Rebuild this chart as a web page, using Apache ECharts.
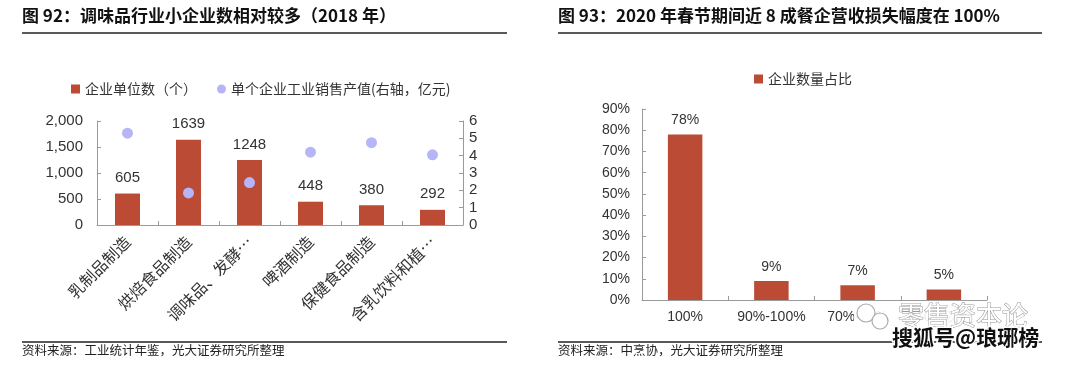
<!DOCTYPE html>
<html>
<head>
<meta charset="utf-8">
<script src="https://cdn.jsdelivr.net/npm/echarts@6/dist/echarts.min.js"></script>
<style>
  html, body { margin: 0; padding: 0; background: #fff; }
  #main { width: 1080px; height: 365px; }
</style>
</head>
<body>
<div id="main"></div>
<script>
// 图92 数据
var industries = ['乳制品制造', '烘焙食品制造', '调味品、发酵…', '啤酒制造', '保健食品制造', '含乳饮料和植…'];
var firmCounts = [605, 1639, 1248, 448, 380, 292];
var salesPerFirm = [5.3, 1.85, 2.45, 4.2, 4.75, 4.05];
// 图93 数据
var lossRanges = ['100%', '90%-100%', '70%-90%', '70%以下'];
var lossShares = [78, 9, 7, 5];

var RED = '#bc4b36';
var PURPLE = '#b6b5f7';
var AXIS = '#9a9a9a';
var CN = '"Noto Sans CJK SC", sans-serif';
var NUM = '"Liberation Sans", Arial, sans-serif';

var myChart = echarts.init(document.getElementById('main'));

var tick = { show: true, inside: true, length: 4, lineStyle: { color: AXIS } };

var option = {
  backgroundColor: '#fff',
  animation: false,
  textStyle: { fontFamily: NUM },
  legend: [
    {
      left: 66, top: 77,
      itemWidth: 9, itemHeight: 9, itemGap: 20,
      textStyle: { fontFamily: CN, fontSize: 14, color: '#333' },
      data: [
        { name: '企业单位数（个）', icon: 'rect' },
        { name: '单个企业工业销售产值(右轴，亿元)', icon: 'circle' }
      ]
    },
    {
      left: 749, top: 67,
      itemWidth: 9, itemHeight: 9,
      textStyle: { fontFamily: CN, fontSize: 14, color: '#333' },
      data: [{ name: '企业数量占比', icon: 'rect' }]
    }
  ],
  grid: [
    { left: 97, top: 121, width: 366, height: 104 },
    { left: 642, top: 109, width: 345, height: 191 }
  ],
  xAxis: [
    {
      type: 'category', gridIndex: 0, data: industries,
      axisLine: { lineStyle: { color: AXIS } },
      axisTick: tick,
      axisLabel: { interval: 0, rotate: 45, fontFamily: CN, fontSize: 16, color: '#333', margin: 14 }
    },
    {
      type: 'category', gridIndex: 1, data: lossRanges,
      axisLine: { lineStyle: { color: AXIS } },
      axisTick: tick,
      axisLabel: { interval: 0, fontFamily: NUM, fontSize: 14, color: '#333', margin: 10 }
    }
  ],
  yAxis: [
    {
      type: 'value', gridIndex: 0, min: 0, max: 2000, interval: 500,
      axisLine: { show: true, lineStyle: { color: AXIS } },
      axisTick: tick,
      splitLine: { show: false },
      axisLabel: {
        fontFamily: NUM, fontSize: 15, color: '#333', margin: 14,
        formatter: function (v) { return v.toLocaleString('en-US'); }
      }
    },
    {
      type: 'value', gridIndex: 0, position: 'right', min: 0, max: 6, interval: 1,
      axisLine: { show: true, lineStyle: { color: AXIS } },
      axisTick: tick,
      splitLine: { show: false },
      axisLabel: { fontFamily: NUM, fontSize: 15, color: '#333', margin: 6 }
    },
    {
      type: 'value', gridIndex: 1, min: 0, max: 90, interval: 10,
      axisLine: { show: true, lineStyle: { color: AXIS } },
      axisTick: tick,
      splitLine: { show: false },
      axisLabel: { fontFamily: NUM, fontSize: 14, color: '#333', margin: 12, formatter: '{value}%' }
    }
  ],
  series: [
    {
      name: '企业单位数（个）', type: 'bar', xAxisIndex: 0, yAxisIndex: 0,
      data: firmCounts, barWidth: '41%', itemStyle: { color: RED },
      label: { show: true, position: 'top', distance: 8, fontFamily: NUM, fontSize: 15, color: '#333' }
    },
    {
      name: '单个企业工业销售产值(右轴，亿元)', type: 'scatter', xAxisIndex: 0, yAxisIndex: 1,
      data: salesPerFirm, symbolSize: 11, itemStyle: { color: PURPLE, opacity: 1 }
    },
    {
      name: '企业数量占比', type: 'bar', xAxisIndex: 1, yAxisIndex: 2,
      data: lossShares, barWidth: '40%', itemStyle: { color: RED },
      label: { show: true, position: 'top', distance: 7, fontFamily: NUM, fontSize: 14, color: '#333', formatter: '{c}%' }
    }
  ],
  graphic: [
    { type: 'text', left: 22, top: 7, style: { text: '图 92：调味品行业小企业数相对较多（2018 年）', font: 'bold 17px ' + CN, fill: '#111' } },
    { type: 'line', shape: { x1: 22, y1: 33, x2: 507, y2: 33 }, style: { stroke: '#222', lineWidth: 1.5 } },
    { type: 'line', shape: { x1: 22, y1: 342, x2: 507, y2: 342 }, style: { stroke: '#222', lineWidth: 1.5 } },
    { type: 'text', left: 22, top: 344, style: { text: '资料来源：工业统计年鉴，光大证券研究所整理', font: '12.5px ' + CN, fill: '#222' } },

    { type: 'text', left: 558, top: 7, style: { text: '图 93：2020 年春节期间近 8 成餐企营收损失幅度在 100%', font: 'bold 17px ' + CN, fill: '#111' } },
    { type: 'line', shape: { x1: 558, y1: 33, x2: 1042, y2: 33 }, style: { stroke: '#222', lineWidth: 1.5 } },
    { type: 'line', shape: { x1: 558, y1: 342, x2: 1042, y2: 342 }, style: { stroke: '#222', lineWidth: 1.5 } },
    { type: 'text', left: 558, top: 344, style: { text: '资料来源：中烹协，光大证券研究所整理', font: '12.5px ' + CN, fill: '#222' } },

    // 水印
    {
      type: 'group', z: 100,
      children: [
        { type: 'rect', z: 100, shape: { x: 854, y: 304, width: 200, height: 27 }, style: { fill: 'rgba(255,255,255,0.9)' } },
        { type: 'circle', z: 101, shape: { cx: 866, cy: 313, r: 9 }, style: { fill: '#fff', stroke: '#aaa', lineWidth: 1.2 } },
        { type: 'circle', z: 101, shape: { cx: 880, cy: 321, r: 8 }, style: { fill: '#fff', stroke: '#aaa', lineWidth: 1.2 } },
        { type: 'text', z: 102, x: 898, y: 302, style: { text: '零售资本论', font: '26px ' + CN, fill: '#fff', stroke: '#999', lineWidth: 1 } },
        { type: 'text', z: 102, x: 892, y: 327, style: { text: '搜狐号@琅琊榜', font: 'bold 21px ' + CN, fill: '#111', stroke: '#fff', lineWidth: 3 } }
      ]
    }
  ]
};

myChart.setOption(option);
</script>
</body>
</html>
